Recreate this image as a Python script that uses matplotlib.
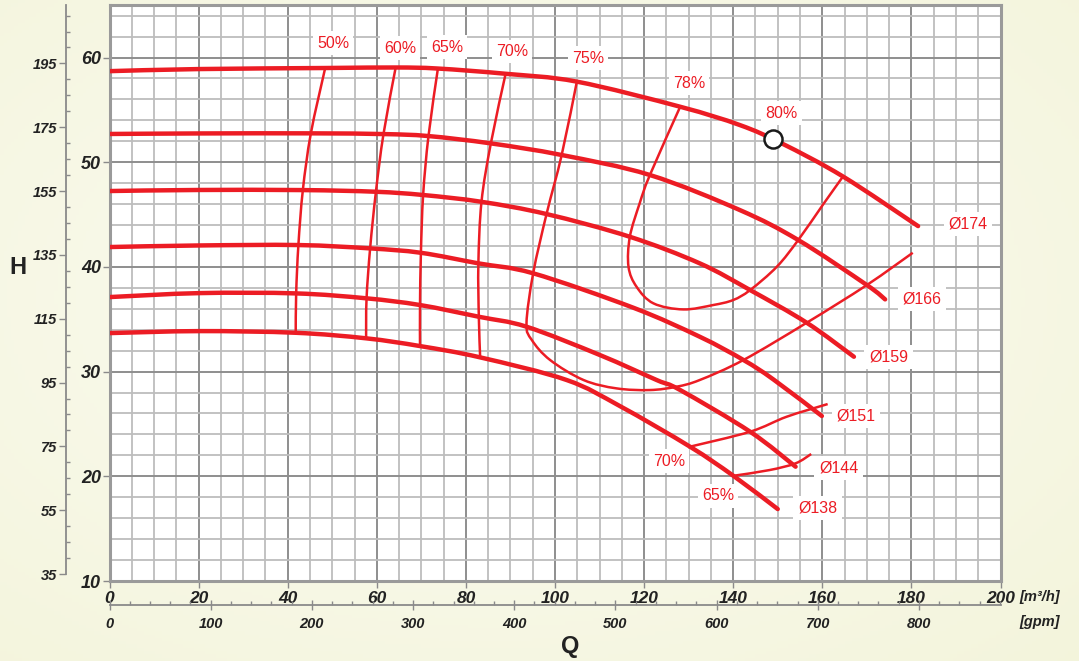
import os
import numpy as np
import matplotlib
matplotlib.use('Agg')
import matplotlib.pyplot as plt
from matplotlib.ticker import MultipleLocator
from matplotlib.path import Path
from matplotlib.patches import PathPatch
from matplotlib import font_manager as fm

plt.rcParams['font.family'] = ['Liberation Sans', 'DejaVu Sans']


def bold_italic_file():
    prefs = ['Liberation Sans', 'Roboto', 'Noto Sans', 'Open Sans', 'Lato', 'DejaVu Sans']
    for name in prefs:
        for f in fm.fontManager.ttflist:
            w = f.weight
            if isinstance(w, str):
                w = fm.weight_dict.get(w, 400)
            if f.name == name and f.style in ('italic', 'oblique') and w >= 600:
                return f.fname
    return os.path.join(matplotlib.get_data_path(), 'fonts', 'ttf', 'DejaVuSans-BoldOblique.ttf')


BI_FILE = bold_italic_file()


def bi(size):
    fp = fm.FontProperties(fname=BI_FILE)
    fp.set_size(size)
    return fp


RED = '#ec1c24'
DARK = '#222222'
M3H_TO_GPM = 4.40287
M_TO_FT = 3.28084

# ---------------- impeller curves  (Q in m3/h, H in m) ----------------
d174_q = [0, 20, 48.4, 64.2, 73.7, 88.9, 104.9, 128.1, 141.5, 150.9, 164.6, 181.5]
d174_h = [58.7, 58.9, 59.0, 59.05, 58.95, 58.45, 57.7, 55.3, 53.55, 51.8, 48.65, 43.9]

d166_q = [0, 20, 45.2, 61.5, 71.6, 85.6, 101.5, 121.3, 141.5, 154.6, 170.0, 174.1]
d166_h = [52.7, 52.75, 52.76, 52.69, 52.5, 51.8, 50.69, 48.78, 45.43, 42.57, 38.27, 36.9]

d159_q = [0, 20, 43.4, 59.8, 70.4, 83.5, 98.1, 116.8, 132.5, 143.8, 156.5, 167.1]
d159_h = [47.25, 47.35, 47.34, 47.18, 46.87, 46.22, 45.05, 42.88, 40.34, 37.79, 34.67, 31.42]

d151_q = [0, 20, 42.4, 58.5, 69.9, 82.8, 95.1, 117.6, 132.5, 142.3, 149.0, 159.9]
d151_h = [41.9, 42.05, 42.09, 41.77, 41.35, 40.34, 39.39, 36.1, 33.33, 31.11, 29.26, 25.76]

d144_q = [0, 20.3, 41.9, 57.7, 69.7, 82.9, 93.6, 110.1, 122.8, 128.1, 143.8, 154.0]
d144_h = [37.12, 37.5, 37.47, 37.0, 36.36, 35.24, 34.29, 31.58, 29.2, 28.24, 24.26, 20.92]

d138_q = [0, 20.3, 41.8, 57.6, 69.7, 83.2, 102.6, 114.6, 130.3, 140.0, 150.0]
d138_h = [33.68, 33.87, 33.71, 33.18, 32.44, 31.36, 29.2, 26.7, 22.83, 20.06, 16.87]

impellers = [
    ('Ø174', d174_q, d174_h, 192.7, 44.1),
    ('Ø166', d166_q, d166_h, 182.4, 36.93),
    ('Ø159', d159_q, d159_h, 174.9, 31.39),
    ('Ø151', d151_q, d151_h, 167.6, 25.76),
    ('Ø144', d144_q, d144_h, 163.7, 20.79),
    ('Ø138', d138_q, d138_h, 159.0, 16.97),
]

# ---------------- iso-efficiency curves ----------------
e50_q = [48.4, 45.2, 43.4, 42.4, 41.9, 41.8]
e50_h = [58.97, 52.76, 47.34, 42.09, 37.47, 33.71]

e60_q = [64.2, 61.5, 59.8, 58.5, 57.7, 57.6]
e60_h = [58.97, 52.69, 47.18, 41.77, 36.99, 33.18]

e65_q = [73.7, 71.6, 70.4, 69.9, 69.7, 69.7]
e65_h = [58.9, 52.50, 46.87, 41.35, 36.36, 32.44]

e70_q = [88.9, 85.6, 83.5, 82.8, 82.9, 83.2]
e70_h = [58.42, 51.80, 46.22, 40.34, 35.24, 31.36]

e75_q = [104.9, 101.5, 98.1, 95.1, 93.6, 94.8, 98.9, 106.4, 113.8, 121.3, 127.3,
         132.5, 142.3, 156.5, 170.0, 180.3]
e75_h = [57.69, 50.69, 45.05, 39.39, 34.61, 33.02, 31.11, 29.20, 28.40, 28.24, 28.56,
         29.20, 31.11, 34.67, 38.27, 41.35]

e78_q = [128.1, 121.3, 119.0, 116.8, 116.5, 118.3, 122.1, 128.8, 135.5, 140.0,
         143.8, 149.8, 154.6, 160.2, 164.6]
e78_h = [55.30, 48.78, 46.07, 42.88, 40.02, 38.11, 36.52, 35.94, 36.36, 36.84,
         37.79, 40.02, 42.57, 45.98, 48.61]

e70b_q = [130.3, 143.8, 152.0, 161.2]
e70b_h = [22.83, 24.26, 25.69, 26.9]

e65b_q = [140.2, 148.2, 154.0, 157.5]
e65b_h = [20.06, 20.6, 21.24, 22.13]

eff_lines = [(e50_q, e50_h), (e60_q, e60_h), (e65_q, e65_h), (e70_q, e70_h),
             (e75_q, e75_h), (e78_q, e78_h), (e70b_q, e70b_h), (e65b_q, e65b_h)]

eff_labels = ['50%', '60%', '65%', '70%', '75%', '78%', '80%', '70%', '65%']
eff_label_q = [50.2, 65.2, 75.8, 90.3, 107.4, 130.1, 150.9, 125.6, 136.6]
eff_label_h = [61.38, 60.9, 61.0, 60.6, 59.95, 57.56, 54.7, 21.46, 18.12]

bep_q = [148.9]
bep_h = [52.21]

# ---------------- axes ticks ----------------
q_ticks = list(range(0, 201, 20))
h_ticks = list(range(10, 61, 10))
ft_ticks = list(range(35, 196, 20))
gpm_ticks = list(range(0, 801, 100))


def smooth_path(q, h):
    """Catmull-Rom curve through the read points, rendered as cubic Bezier segments."""
    p = np.column_stack([q, h]).astype(float)
    n = len(p)
    verts = [p[0]]
    codes = [Path.MOVETO]
    for i in range(n - 1):
        p0 = p[i - 1] if i > 0 else p[i]
        p1, p2 = p[i], p[i + 1]
        p3 = p[i + 2] if i + 2 < n else p[i + 1]
        c1 = p1 + (p2 - p0) / 6.0
        c2 = p2 - (p3 - p1) / 6.0
        verts += [c1, c2, p2]
        codes += [Path.CURVE4] * 3
    return Path(verts, codes)


# ---------------- figure ----------------
W, Hpx = 1079, 661
fig = plt.figure(figsize=(W / 100, Hpx / 100), dpi=100)

# background gradient
bg = fig.add_axes([0, 0, 1, 1], zorder=-10)
yy, xx = np.mgrid[0:1:200j, 0:1:300j]
r = np.sqrt(((xx - 0.45) / 0.8) ** 2 + ((yy - 0.55) / 0.8) ** 2)
r = np.clip(r, 0, 1)
c0 = np.array([0xfc, 0xfc, 0xf2]) / 255.0
c1 = np.array([0xf3, 0xf4, 0xdb]) / 255.0
img = c0[None, None, :] * (1 - r[..., None]) + c1[None, None, :] * r[..., None]
bg.imshow(img, aspect='auto', extent=[0, 1, 0, 1], origin='lower')
bg.axis('off')

x0, x1 = 109.5 / W, 1000.5 / W
y_top = 1 - 5.2 / Hpx
y_bot = 1 - 581.0 / Hpx
ax = fig.add_axes([x0, y_bot, x1 - x0, y_top - y_bot])
ax.set_facecolor('white')
ax.set_xlim(0, 200)
ax.set_ylim(10, 65)

ax.xaxis.set_major_locator(plt.FixedLocator(q_ticks))
ax.xaxis.set_minor_locator(MultipleLocator(5))
ax.yaxis.set_major_locator(plt.FixedLocator(h_ticks))
ax.yaxis.set_minor_locator(MultipleLocator(2))
ax.grid(which='minor', color='#bdbdbd', lw=1.3, zorder=0)
ax.grid(which='major', color='#8e8e8e', lw=1.4, zorder=0)
ax.set_axisbelow(True)
for s in ax.spines.values():
    s.set_color('#9a9a9a')
    s.set_linewidth(2.2)

ax.tick_params(which='minor', length=0)
ax.tick_params(which='major', length=5, width=1, color='#8a8a8a', direction='out',
               labelcolor=DARK)
ax.tick_params(axis='y', which='major', pad=1)
ax.tick_params(axis='x', which='major', pad=2)
ax.set_xticklabels([str(t) for t in q_ticks], fontproperties=bi(12.5))
ax.set_yticklabels([str(t) for t in h_ticks], fontproperties=bi(13))

# impeller curves
for name, q, h, lq, lh in impellers:
    ax.add_patch(PathPatch(smooth_path(q, h), facecolor='none', edgecolor=RED, lw=3.2,
                           capstyle='round', joinstyle='round', zorder=4))
    ax.text(lq, lh, name, color=RED, fontsize=11.5, ha='center', va='center', zorder=6,
            bbox=dict(facecolor='white', edgecolor='none', pad=3.5))

for q, h in eff_lines:
    ax.add_patch(PathPatch(smooth_path(q, h), facecolor='none', edgecolor=RED, lw=1.8,
                           capstyle='butt', joinstyle='round', zorder=3))

for t, q, h in zip(eff_labels, eff_label_q, eff_label_h):
    ax.text(q, h, t, color=RED, fontsize=11.5, ha='center', va='center', zorder=6,
            bbox=dict(facecolor='white', edgecolor='none', pad=3.0))

ax.plot(bep_q, bep_h, 'o', ms=13, mfc='white', mec='#1a1a1a', mew=1.8, zorder=7)

# ---------------- feet axis (left) ----------------
fx = 65.7 / W
axf = fig.add_axes([fx, y_bot, 0.0005, y_top - y_bot])
axf.set_ylim(10 * M_TO_FT, 65 * M_TO_FT)
axf.patch.set_visible(False)
for k in ['right', 'top', 'bottom']:
    axf.spines[k].set_visible(False)
axf.spines['left'].set_bounds(35, 65 * M_TO_FT)
axf.spines['left'].set_color('#8a8a8a')
axf.spines['left'].set_linewidth(1.3)
axf.set_xticks([])
axf.yaxis.set_major_locator(plt.FixedLocator(ft_ticks))
axf.yaxis.set_minor_locator(plt.FixedLocator(list(range(35, 214, 5))))
axf.tick_params(axis='y', which='major', length=5, width=1, color='#8a8a8a', direction='out',
                pad=1, labelcolor=DARK)
axf.tick_params(axis='y', which='minor', length=3, width=1, color='#8a8a8a', direction='in')
axf.set_yticklabels([str(t) for t in ft_ticks], fontproperties=bi(10.5))

# ---------------- gpm axis (bottom) ----------------
gy = 1 - 605.0 / Hpx
axg = fig.add_axes([x0, gy, x1 - x0, 0.0005])
axg.set_xlim(0, 200 * M3H_TO_GPM)
axg.patch.set_visible(False)
for k in ['left', 'right', 'top']:
    axg.spines[k].set_visible(False)
axg.spines['bottom'].set_color('#8a8a8a')
axg.spines['bottom'].set_linewidth(1.3)
axg.set_yticks([])
axg.xaxis.set_major_locator(plt.FixedLocator(gpm_ticks))
axg.xaxis.set_minor_locator(plt.FixedLocator(list(range(0, 881, 20))))
axg.tick_params(axis='x', which='major', length=7, width=1, color='#8a8a8a', direction='inout',
                pad=5, labelcolor=DARK)
axg.tick_params(axis='x', which='minor', length=3, width=1, color='#8a8a8a', direction='in')
axg.set_xticklabels([str(t) for t in gpm_ticks], fontproperties=bi(10.5))

# ---------------- unit labels / axis titles ----------------
fig.text(1040 / W, 1 - 597 / Hpx, '[m³/h]', ha='center', va='center', color=DARK,
         fontproperties=bi(10.5))
fig.text(1040 / W, 1 - 622 / Hpx, '[gpm]', ha='center', va='center', color=DARK,
         fontproperties=bi(10.5))
fig.text(570 / W, 1 - 647 / Hpx, 'Q', ha='center', va='center', fontsize=17,
         fontweight='bold', color=DARK)
fig.text(18 / W, 1 - 268 / Hpx, 'H', ha='center', va='center', fontsize=17,
         fontweight='bold', color=DARK)

fig.savefig('out.png', dpi=100, facecolor=fig.get_facecolor())
